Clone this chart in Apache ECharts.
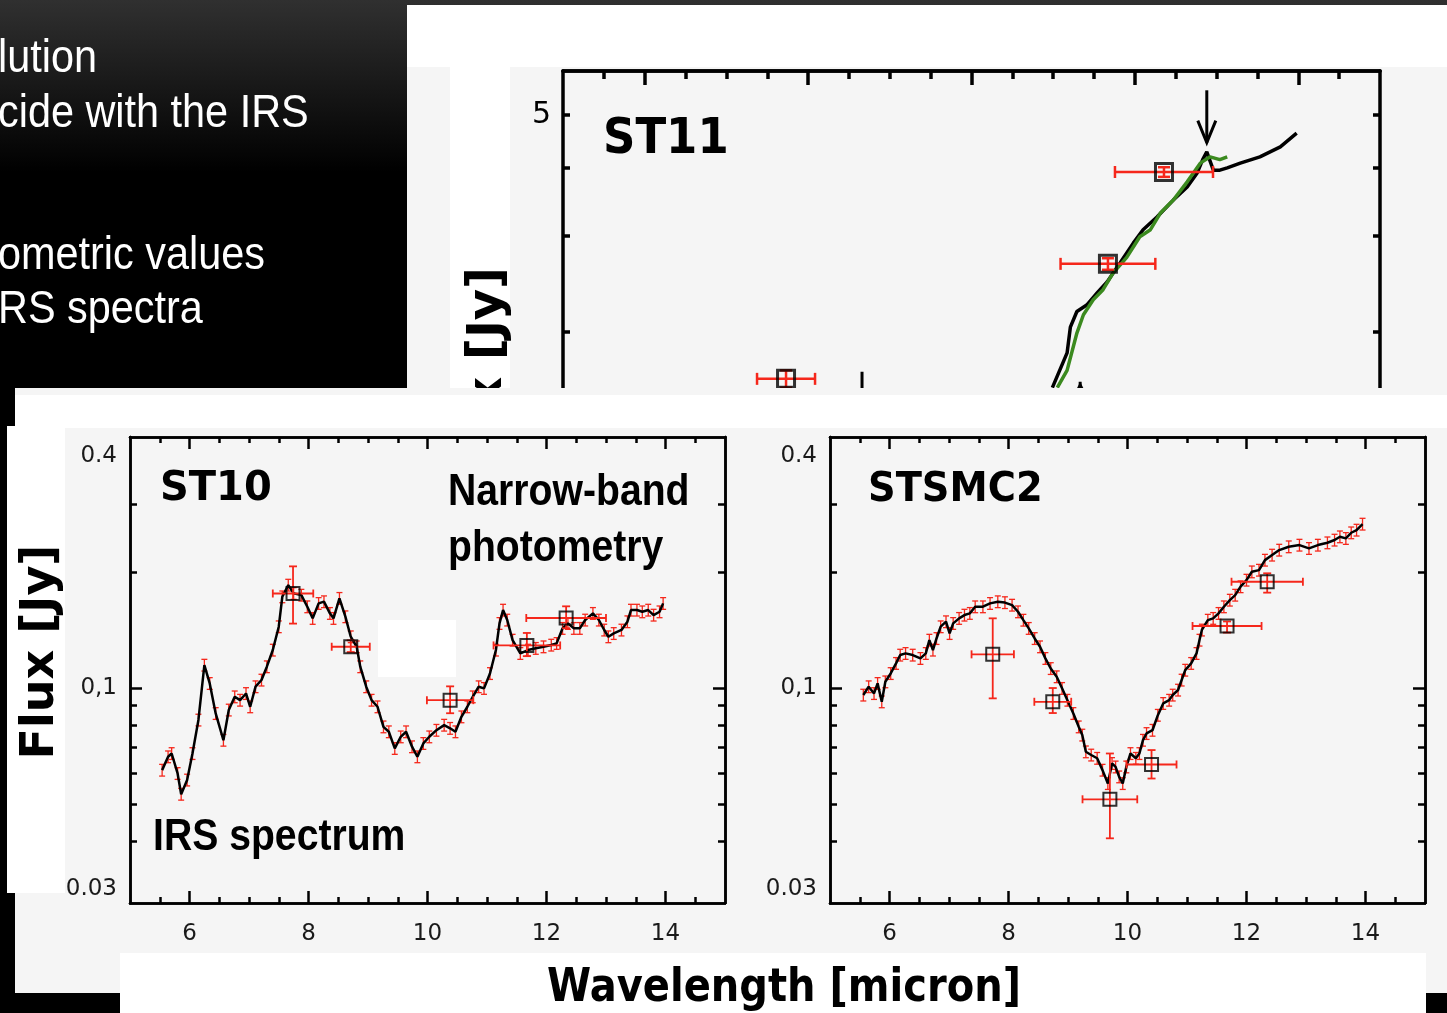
<!DOCTYPE html>
<html>
<head>
<meta charset="utf-8">
<script src="https://cdn.jsdelivr.net/npm/echarts@6.0.0/dist/echarts.min.js"></script>
<style>
html, body { margin: 0; padding: 0; background: #000; overflow: hidden; }
#back, #front { position: absolute; left: 0; top: 0; width: 1447px; height: 1013px; }
</style>
</head>
<body>
<div id="back"></div>
<div id="front"></div>
<script>
// ---- ST10 (IRS spectrum + narrow-band photometry) ----
const st10Wave = [5.54, 5.64, 5.70, 5.80, 5.86, 5.96, 6.05, 6.15, 6.25, 6.34, 6.44, 6.57, 6.66, 6.76, 6.85, 6.95, 7.02, 7.11, 7.21, 7.30,
  7.40, 7.50, 7.56, 7.66, 7.75, 7.88, 7.98, 8.07, 8.17, 8.26, 8.36, 8.42, 8.52, 8.62, 8.71, 8.81, 8.87, 8.97, 9.06, 9.16,
  9.26, 9.35, 9.45, 9.55, 9.64, 9.74, 9.83, 9.93, 10.03, 10.15, 10.28, 10.38, 10.47, 10.57, 10.67, 10.76, 10.86, 10.95, 11.05, 11.15,
  11.21, 11.27, 11.34, 11.43, 11.56, 11.69, 11.82, 11.95, 12.08, 12.17, 12.27, 12.36, 12.46, 12.56, 12.65, 12.78, 12.88, 12.97, 13.04, 13.13,
  13.26, 13.36, 13.42, 13.52, 13.61, 13.71, 13.80, 13.90, 13.96];
const st10Flux = [0.0612, 0.0663, 0.0676, 0.0600, 0.0530, 0.0577, 0.0676, 0.0826, 0.1147, 0.1028, 0.0859, 0.0732, 0.0877, 0.0949, 0.0930, 0.0968, 0.0894, 0.1008, 0.1049, 0.1136,
  0.1255, 0.1443, 0.1726, 0.1851, 0.1761, 0.1743, 0.1626, 0.1517, 0.1659, 0.1676, 0.1563, 0.1517, 0.1710, 0.1532, 0.1359, 0.1280, 0.1136, 0.1008, 0.0930, 0.0894,
  0.0793, 0.0770, 0.0697, 0.0747, 0.0770, 0.0704, 0.0663, 0.0718, 0.0747, 0.0777, 0.0801, 0.0786, 0.0770, 0.0842, 0.0894, 0.0949, 0.1008, 0.0998, 0.1091, 0.1255,
  0.1472, 0.1594, 0.1502, 0.1332, 0.1230, 0.1255, 0.1268, 0.1280, 0.1293, 0.1306, 0.1429, 0.1472, 0.1429, 0.1429, 0.1502, 0.1563, 0.1502, 0.1415, 0.1359, 0.1386,
  0.1415, 0.1487, 0.1594, 0.1594, 0.1578, 0.1594, 0.1547, 0.1578, 0.1659];
const st10PhotWave = [7.74, 8.71, 10.38, 11.67, 12.33];
const st10PhotFlux = [0.176, 0.128, 0.093, 0.129, 0.152];
const st10PhotWaveErr = [0.34, 0.32, 0.39, 0.56, 0.67];
const st10PhotFluxLo = [0.147, 0.124, 0.086, 0.121, 0.143];
const st10PhotFluxHi = [0.207, 0.133, 0.101, 0.139, 0.163];

// ---- STSMC2 ----
const stsmc2Wave = [5.56, 5.65, 5.74, 5.80, 5.87, 5.93, 6.02, 6.11, 6.18, 6.27, 6.39, 6.52, 6.61, 6.67, 6.73, 6.79, 6.86, 6.95, 7.01, 7.07,
  7.17, 7.26, 7.35, 7.44, 7.57, 7.69, 7.82, 7.94, 8.06, 8.16, 8.25, 8.34, 8.44, 8.53, 8.62, 8.71, 8.81, 8.90, 8.99, 9.09,
  9.18, 9.24, 9.30, 9.39, 9.49, 9.58, 9.67, 9.74, 9.80, 9.86, 9.92, 9.98, 10.05, 10.14, 10.20, 10.26, 10.32, 10.42, 10.51, 10.60,
  10.70, 10.76, 10.85, 10.91, 10.97, 11.07, 11.16, 11.21, 11.25, 11.35, 11.44, 11.53, 11.62, 11.72, 11.81, 11.90, 12.00, 12.09, 12.21, 12.31,
  12.43, 12.55, 12.71, 12.89, 13.05, 13.20, 13.36, 13.48, 13.57, 13.67, 13.76, 13.85, 13.95];
const stsmc2Flux = [0.0959, 0.1008, 0.0968, 0.1028, 0.0921, 0.1038, 0.1091, 0.1159, 0.1218, 0.1230, 0.1218, 0.1194, 0.1230, 0.1332, 0.1255, 0.1345, 0.1443, 0.1487, 0.1386, 0.1472,
  0.1517, 0.1547, 0.1563, 0.1626, 0.1626, 0.1659, 0.1676, 0.1667, 0.1642, 0.1578, 0.1501, 0.1429, 0.1345, 0.1280, 0.1194, 0.1124, 0.1070, 0.0998, 0.0930, 0.0859,
  0.0793, 0.0755, 0.0683, 0.0670, 0.0657, 0.0612, 0.0565, 0.0637, 0.0624, 0.0588, 0.0565, 0.0624, 0.0676, 0.0657, 0.0676, 0.0732, 0.0762, 0.0777, 0.0850, 0.0912,
  0.0930, 0.0959, 0.0988, 0.1049, 0.1113, 0.1159, 0.1230, 0.1332, 0.1415, 0.1501, 0.1517, 0.1563, 0.1626, 0.1692, 0.1743, 0.1833, 0.1907, 0.2004, 0.2024, 0.2149,
  0.2215, 0.2282, 0.2328, 0.2351, 0.2305, 0.2351, 0.2384, 0.2423, 0.2471, 0.2447, 0.2531, 0.2572, 0.2666];
const stsmc2PhotWave = [7.735, 8.744, 9.704, 10.404, 11.673, 12.348];
const stsmc2PhotFlux = [0.1223, 0.0921, 0.0514, 0.0633, 0.1449, 0.1888];
const stsmc2PhotWaveErr = [0.356, 0.31, 0.46, 0.42, 0.58, 0.60];
const stsmc2PhotFluxLo = [0.0940, 0.0861, 0.0407, 0.0582, 0.1393, 0.1769];
const stsmc2PhotFluxHi = [0.1517, 0.1000, 0.0676, 0.0690, 0.1489, 0.1986];

// relative error of the IRS spectra (the small red bars)
const specRelErr = 0.035;

// ---- ST11 (top panel, partly hidden) ----
const st11Wave = [10.99, 11.17, 11.21, 11.29, 11.41, 11.54, 11.66, 11.82, 11.98, 12.10, 12.27, 12.47, 12.64, 12.76, 12.83, 12.88, 12.96, 13.04, 13.13, 13.29, 13.53, 13.78, 13.98];
const st11Flux = [1.58, 1.83, 2.04, 2.18, 2.24, 2.36, 2.47, 2.68, 2.91, 3.08, 3.25, 3.49, 3.69, 3.91, 4.14, 4.28, 3.96, 3.96, 4.00, 4.08, 4.19, 4.37, 4.63];
const st11GreenWave = [11.05, 11.17, 11.29, 11.37, 11.49, 11.61, 11.73, 11.90, 12.06, 12.19, 12.31, 12.47, 12.64, 12.80, 12.92, 13.04, 13.13];
const st11GreenFlux = [1.58, 1.70, 1.99, 2.15, 2.29, 2.39, 2.56, 2.74, 2.99, 3.08, 3.30, 3.49, 3.77, 4.08, 4.19, 4.14, 4.19];
const st11PhotWave = [7.73, 11.67, 12.356];
const st11PhotFlux = [1.64, 2.666, 3.93];
const st11PhotWaveErr = [0.355, 0.58, 0.60];
const st11PhotFluxLo = [1.58, 2.60, 3.85];
const st11PhotFluxHi = [1.70, 2.73, 4.01];
const st11ArrowWave = [12.88, 8.66, 11.33];
const st11ArrowFrom = [5.55, 1.69, 1.0];
const st11ArrowTo = [4.45, 1.2, 1.62];
const st11ArrowHead = ['open', 'none', 'filled'];

// ---- axes ----
const xMajor = [6, 8, 10, 12, 14];
const xMinor = [5.5, 6.5, 7, 7.5, 8.5, 9, 9.5, 10.5, 11, 11.5, 12.5, 13, 13.5, 14.5];
const xLabels = [6, 8, 10, 12, 14];
const smallYMajor = [0.1];
const smallYMinor = [0.04, 0.05, 0.06, 0.07, 0.08, 0.09, 0.2, 0.3];
const smallYLabelValues = [0.4, 0.1, 0.03];
const smallYLabelTexts = ['0.4', '0,1', '0.03'];
const st11YTicks = [2, 3, 4, 5];
const st11YLabelValues = [5];
const st11YLabelTexts = ['5'];

const toLog = v => Math.log10(v);
const RED = '#f5271b';

function valAxis(grid, pos, min, max, ticks, len, width, label) {
  return {
    type: 'value', gridIndex: grid, position: pos, min: min, max: max,
    axisLine: { show: true, onZero: false, lineStyle: { color: '#000', width: width } },
    axisTick: { show: true, inside: true, length: len, customValues: ticks, lineStyle: { color: '#000', width: width } },
    axisLabel: label || { show: false },
    splitLine: { show: false },
    axisPointer: { show: false }
  };
}

function logLabel(values, texts, extra) {
  return Object.assign({
    show: true,
    customValues: values.map(toLog),
    color: '#1a1a1a',
    fontFamily: 'DejaVu Sans',
    fontSize: 23,
    formatter: function (v) {
      const i = values.findIndex(x => Math.abs(toLog(x) - v) < 1e-6);
      return i >= 0 ? texts[i] : '';
    }
  }, extra || {});
}

function errBars(cap, width) {
  return function (params, api) {
    const x = api.value(0);
    const lo = api.coord([x, api.value(2)]);
    const hi = api.coord([x, api.value(3)]);
    const seg = (x1, y1, x2, y2) => ({ type: 'line', shape: { x1, y1, x2, y2 }, style: { stroke: RED, lineWidth: width } });
    return { type: 'group', children: [
      seg(lo[0], lo[1], hi[0], hi[1]),
      seg(lo[0] - cap, lo[1], lo[0] + cap, lo[1]),
      seg(hi[0] - cap, hi[1], hi[0] + cap, hi[1])
    ] };
  };
}

function photBars(cap, width) {
  return function (params, api) {
    const x = api.value(0), y = api.value(1);
    const lo = api.coord([x, api.value(2)]);
    const hi = api.coord([x, api.value(3)]);
    const l = api.coord([api.value(4), y]);
    const r = api.coord([api.value(5), y]);
    const seg = (x1, y1, x2, y2) => ({ type: 'line', shape: { x1, y1, x2, y2 }, style: { stroke: RED, lineWidth: width } });
    return { type: 'group', children: [
      seg(lo[0], lo[1], hi[0], hi[1]),
      seg(lo[0] - cap, lo[1], lo[0] + cap, lo[1]),
      seg(hi[0] - cap, hi[1], hi[0] + cap, hi[1]),
      seg(l[0], l[1], r[0], r[1]),
      seg(l[0], l[1] - cap, l[0], l[1] + cap),
      seg(r[0], r[1] - cap, r[0], r[1] + cap)
    ] };
  };
}

function specErrData(wave, flux) {
  return wave.map((w, i) => [w, toLog(flux[i]), toLog(flux[i] * (1 - specRelErr)), toLog(flux[i] * (1 + specRelErr))]);
}
function photData(wave, flux, werr, lo, hi) {
  return wave.map((w, i) => [w, toLog(flux[i]), toLog(lo[i]), toLog(hi[i]), w - werr[i], w + werr[i]]);
}
function lineData(wave, flux) {
  return wave.map((w, i) => [w, toLog(flux[i])]);
}

// ================= back layer: slide, top panel, ST11 =================
const back = echarts.init(document.getElementById('back'), null, { renderer: 'canvas' });
const st11YMin = -0.301, st11YMax = 0.7797;
const slideFont = { fontFamily: 'Liberation Sans', fontSize: 46, fill: '#ffffff' };
back.setOption({
  animation: false,
  graphic: { elements: [
    { type: 'rect', z: -10, silent: true, shape: { x: 0, y: 0, width: 1447, height: 1013 },
      style: { fill: new echarts.graphic.LinearGradient(0, 0, 0, 1, [
        { offset: 0, color: '#303030' }, { offset: 0.17, color: '#000000' }, { offset: 1, color: '#000000' }]) } },
    { type: 'rect', z: -9, silent: true, shape: { x: 407, y: 5, width: 1040, height: 385 }, style: { fill: '#ffffff' } },
    { type: 'rect', z: -8, silent: true, shape: { x: 407, y: 67, width: 1040, height: 323 }, style: { fill: '#f5f5f5' } },
    { type: 'rect', z: -7, silent: true, shape: { x: 450, y: 67, width: 60, height: 323 }, style: { fill: '#ffffff' } },
    { type: 'text', x: -2, y: 59, scaleX: 0.9, style: Object.assign({ text: 'lution', verticalAlign: 'middle' }, slideFont) },
    { type: 'text', x: -2, y: 114, scaleX: 0.9, style: Object.assign({ text: 'cide with the IRS', verticalAlign: 'middle' }, slideFont) },
    { type: 'text', x: -2, y: 256, scaleX: 0.9, style: Object.assign({ text: 'ometric values', verticalAlign: 'middle' }, slideFont) },
    { type: 'text', x: -2, y: 310, scaleX: 0.9, style: Object.assign({ text: 'RS spectra', verticalAlign: 'middle' }, slideFont) },
    { type: 'text', x: 603, y: 140, scaleX: 0.9, z: 10,
      style: { text: 'ST11', fontFamily: 'DejaVu Sans', fontWeight: 'bold', fontSize: 50, fill: '#000', verticalAlign: 'middle' } },
    { type: 'text', x: 489, y: 267, rotation: Math.PI / 2, z: 10,
      style: { text: 'Flux [Jy]', fontFamily: 'DejaVu Sans', fontWeight: 'bold', fontSize: 48, fill: '#000', align: 'right', verticalAlign: 'middle' } }
  ] },
  grid: [{ left: 563, top: 71, width: 817, height: 589, outerBoundsMode: 'none' }],
  xAxis: [
    valAxis(0, 'top', 5, 15, xMajor, 14, 3.5),
    valAxis(0, 'top', 5, 15, xMinor, 8, 3.5)
  ],
  yAxis: [
    valAxis(0, 'left', st11YMin, st11YMax, st11YTicks.map(toLog), 7, 3.5,
      logLabel(st11YLabelValues, st11YLabelTexts, { fontSize: 30, margin: 12, color: '#000' })),
    valAxis(0, 'right', st11YMin, st11YMax, st11YTicks.map(toLog), 7, 3.5)
  ],
  series: [
    { type: 'line', xAxisIndex: 0, yAxisIndex: 0, z: 3, showSymbol: false, silent: true,
      lineStyle: { color: '#000', width: 3.5 }, data: lineData(st11Wave, st11Flux) },
    { type: 'line', xAxisIndex: 0, yAxisIndex: 0, z: 4, showSymbol: false, silent: true,
      lineStyle: { color: '#3b8a1f', width: 3.5 }, data: lineData(st11GreenWave, st11GreenFlux) },
    { type: 'custom', xAxisIndex: 0, yAxisIndex: 0, z: 5, silent: true,
      renderItem: photBars(6, 2.5),
      data: photData(st11PhotWave, st11PhotFlux, st11PhotWaveErr, st11PhotFluxLo, st11PhotFluxHi) },
    { type: 'scatter', xAxisIndex: 0, yAxisIndex: 0, z: 6, silent: true, symbol: 'rect', symbolSize: 17,
      itemStyle: { color: 'rgba(0,0,0,0)', borderColor: '#000', borderWidth: 3 },
      data: lineData(st11PhotWave, st11PhotFlux) },
    { type: 'custom', xAxisIndex: 0, yAxisIndex: 0, z: 6, silent: true,
      renderItem: function (params, api) {
        const x = api.value(0);
        const a = api.coord([x, api.value(1)]);
        const b = api.coord([x, api.value(2)]);
        const dir = b[1] > a[1] ? 1 : -1;
        const head = st11ArrowHead[params.dataIndex];
        const kids = [{ type: 'line', shape: { x1: a[0], y1: a[1], x2: b[0], y2: b[1] }, style: { stroke: '#000', lineWidth: 3 } }];
        if (head === 'open') {
          kids.push({ type: 'polyline', shape: { points: [[b[0] - 9, b[1] - 22 * dir], [b[0], b[1]], [b[0] + 9, b[1] - 22 * dir]] },
            style: { stroke: '#000', lineWidth: 3, fill: null } });
        } else if (head === 'filled') {
          kids.push({ type: 'polygon', shape: { points: [[b[0] - 6, b[1] - 12 * dir], [b[0], b[1]], [b[0] + 6, b[1] - 12 * dir]] },
            style: { fill: '#000' } });
        }
        return { type: 'group', children: kids };
      },
      data: st11ArrowWave.map((w, i) => [w, toLog(st11ArrowFrom[i]), toLog(st11ArrowTo[i])]) }
  ]
});

// ================= front layer: the two small panels =================
const front = echarts.init(document.getElementById('front'), null, { renderer: 'canvas' });
const yMin = -1.5584, yMax = -0.348;
const grids = [
  { left: 130, top: 437, width: 595, height: 466, outerBoundsMode: 'none' },
  { left: 830, top: 437, width: 595, height: 466, outerBoundsMode: 'none' }
];
const xAxes = [], yAxes = [];
grids.forEach((g, gi) => {
  xAxes.push(valAxis(gi, 'bottom', 5, 15, xMajor, 12, 2.5, {
    show: true, customValues: xLabels, color: '#1a1a1a', fontFamily: 'DejaVu Sans', fontSize: 23, margin: 20
  }));
  xAxes.push(valAxis(gi, 'bottom', 5, 15, xMinor, 6, 2.5));
  xAxes.push(valAxis(gi, 'top', 5, 15, xMajor, 12, 2.5));
  xAxes.push(valAxis(gi, 'top', 5, 15, xMinor, 6, 2.5));
  yAxes.push(valAxis(gi, 'left', yMin, yMax, smallYMajor.map(toLog), 12, 2.5,
    logLabel(smallYLabelValues, smallYLabelTexts, { margin: 13 })));
  yAxes.push(valAxis(gi, 'left', yMin, yMax, smallYMinor.map(toLog), 7, 2.5));
  yAxes.push(valAxis(gi, 'right', yMin, yMax, smallYMajor.map(toLog), 12, 2.5));
  yAxes.push(valAxis(gi, 'right', yMin, yMax, smallYMinor.map(toLog), 7, 2.5));
});

function panelSeries(gi, wave, flux, pw, pf, pwe, plo, phi) {
  const ax = { xAxisIndex: gi * 4, yAxisIndex: gi * 4, silent: true };
  return [
    Object.assign({ type: 'custom', z: 2, renderItem: errBars(3, 1.3), data: specErrData(wave, flux) }, ax),
    Object.assign({ type: 'line', z: 3, showSymbol: false, lineStyle: { color: '#000', width: 2.5 }, data: lineData(wave, flux) }, ax),
    Object.assign({ type: 'custom', z: 4, renderItem: photBars(4, 1.8), data: photData(pw, pf, pwe, plo, phi) }, ax),
    Object.assign({ type: 'scatter', z: 5, symbol: 'rect', symbolSize: 13,
      itemStyle: { color: 'rgba(0,0,0,0)', borderColor: '#000', borderWidth: 2 }, data: lineData(pw, pf) }, ax)
  ];
}

const boldComic = { fontFamily: 'DejaVu Sans', fontWeight: 'bold', fill: '#000' };
const narrowBold = { fontFamily: 'Liberation Sans', fontWeight: 'bold', fontSize: 44, fill: '#000', verticalAlign: 'middle' };
front.setOption({
  animation: false,
  graphic: { elements: [
    { type: 'rect', z: -10, silent: true, shape: { x: 15, y: 388, width: 1432, height: 605 }, style: { fill: '#f5f5f5' } },
    { type: 'rect', z: -9, silent: true, shape: { x: 15, y: 395, width: 1432, height: 33 }, style: { fill: '#ffffff' } },
    { type: 'rect', z: -9, silent: true, shape: { x: 7, y: 426, width: 58, height: 467 }, style: { fill: '#ffffff' } },
    { type: 'rect', z: -9, silent: true, shape: { x: 120, y: 953, width: 1306, height: 60 }, style: { fill: '#ffffff' } },
    { type: 'rect', z: -9, silent: true, shape: { x: 378, y: 620, width: 78, height: 57 }, style: { fill: '#ffffff' } },
    { type: 'text', x: 160, y: 490, z: 10, style: Object.assign({ text: 'ST10', fontSize: 40, verticalAlign: 'middle' }, boldComic) },
    { type: 'text', x: 868, y: 491, z: 10, scaleX: 0.96, style: Object.assign({ text: 'STSMC2', fontSize: 40, verticalAlign: 'middle' }, boldComic) },
    { type: 'text', x: 448, y: 493, z: 10, scaleX: 0.89, style: Object.assign({ text: 'Narrow-band' }, narrowBold) },
    { type: 'text', x: 448, y: 549, z: 10, scaleX: 0.89, style: Object.assign({ text: 'photometry' }, narrowBold) },
    { type: 'text', x: 153, y: 838, z: 10, scaleX: 0.89, style: Object.assign({ text: 'IRS spectrum' }, narrowBold) },
    { type: 'text', x: 784, y: 989, z: 10, scaleX: 0.87,
      style: Object.assign({ text: 'Wavelength [micron]', fontSize: 46, align: 'center', verticalAlign: 'middle' }, boldComic) },
    { type: 'text', x: 41, y: 652, z: 10, rotation: Math.PI / 2,
      style: Object.assign({ text: 'Flux [Jy]', fontSize: 46, align: 'center', verticalAlign: 'middle' }, boldComic) }
  ] },
  grid: grids,
  xAxis: xAxes,
  yAxis: yAxes,
  series: [].concat(
    panelSeries(0, st10Wave, st10Flux, st10PhotWave, st10PhotFlux, st10PhotWaveErr, st10PhotFluxLo, st10PhotFluxHi),
    panelSeries(1, stsmc2Wave, stsmc2Flux, stsmc2PhotWave, stsmc2PhotFlux, stsmc2PhotWaveErr, stsmc2PhotFluxLo, stsmc2PhotFluxHi)
  )
});
</script>
</body>
</html>
